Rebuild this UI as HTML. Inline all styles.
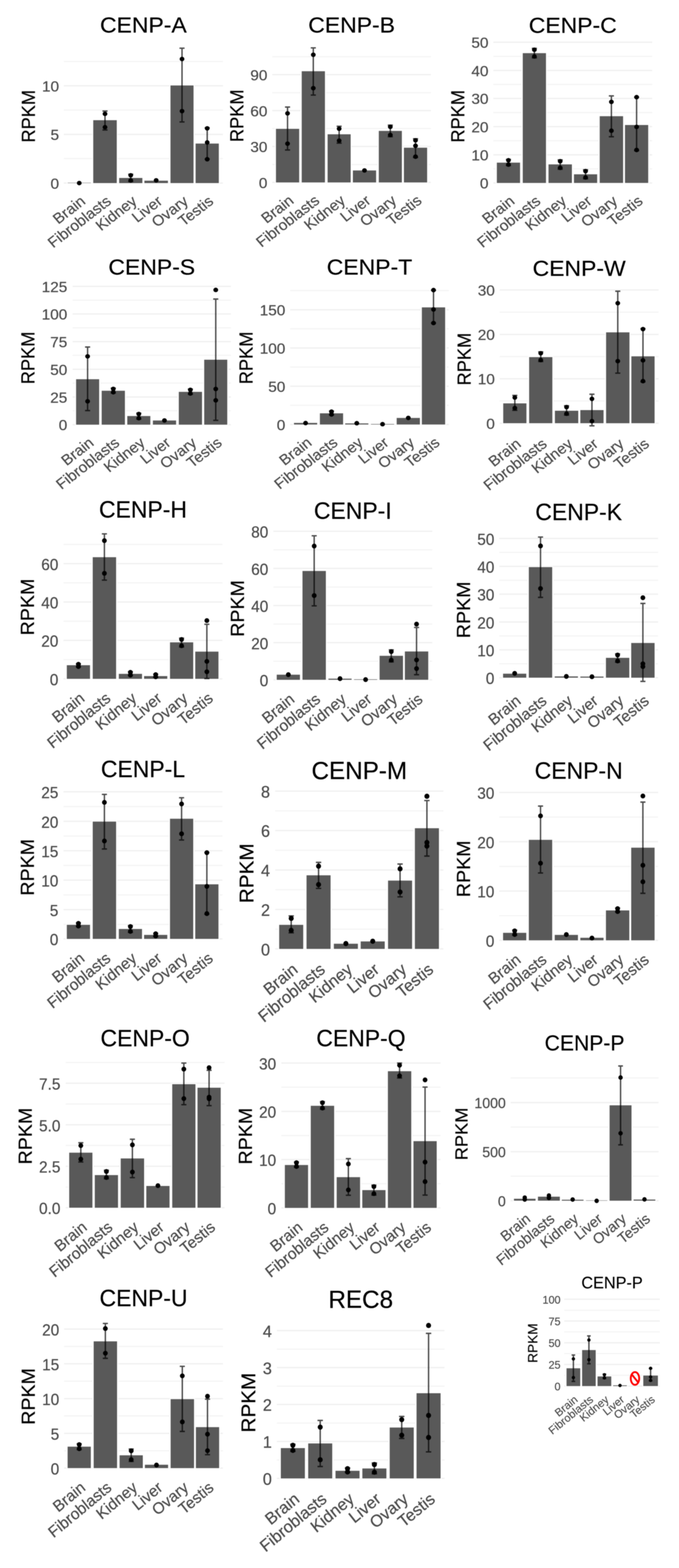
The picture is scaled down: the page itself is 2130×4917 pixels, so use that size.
<!DOCTYPE html>
<html lang="en"><head><meta charset="utf-8"><title>CENP expression (RPKM) across tissues</title>
<style>
html,body{margin:0;padding:0;background:#fff;}
body{width:2130px;height:4917px;overflow:hidden;}
svg{display:block;font-family:"Liberation Sans",Arial,Helvetica,sans-serif;}
.t{fill:#000;text-anchor:middle;stroke:#000;stroke-width:0.5;}
.yl{fill:#000;text-anchor:middle;stroke:#000;stroke-width:0.5;}
.tk{fill:#4d4d4d;text-anchor:end;stroke:#4d4d4d;stroke-width:0.6;}
.xl{fill:#4d4d4d;text-anchor:end;stroke:#4d4d4d;stroke-width:0.6;}
.b{fill:#595959;stroke:#fff;stroke-width:6;paint-order:stroke;}
.gM{stroke:#f0f0f0;stroke-width:4;}
.gm{stroke:#f4f4f4;stroke-width:3.6;}
.e{stroke:#000;stroke-opacity:.7;stroke-width:4.4;fill:none;}
.d{fill:#000;}
</style></head><body>
<svg width="2130" height="4917" viewBox="0 0 2130 4917">
<rect width="2130" height="4917" fill="#fff"/>
<g id="fig" filter="url(#soft)">
<g class="panel">
<line class="gm" x1="200.1" x2="699.4" y1="192.8" y2="192.8"/>
<line class="gM" x1="200.1" x2="699.4" y1="269" y2="269"/>
<line class="gm" x1="200.1" x2="699.4" y1="345.3" y2="345.3"/>
<line class="gM" x1="200.1" x2="699.4" y1="421.6" y2="421.6"/>
<line class="gm" x1="200.1" x2="699.4" y1="497.3" y2="497.3"/>
<line class="gM" x1="200.1" x2="699.4" y1="574.1" y2="574.1"/>
<rect class="b" x="212.2" y="573.1" width="72.8" height="1"/>
<rect class="b" x="292.5" y="376.9" width="73.8" height="197.2"/>
<rect class="b" x="373.8" y="558.1" width="72.8" height="16.1"/>
<rect class="b" x="453" y="566.6" width="73.8" height="7.5"/>
<rect class="b" x="534.8" y="268" width="72.3" height="306.1"/>
<rect class="b" x="613.6" y="450.2" width="72.8" height="123.9"/>
<ellipse class="d" cx="248.6" cy="574.1" rx="7.5" ry="7.1"/>
<path class="e" d="M321.4 348.3H337.4M329.4 348.3V407.5M321.4 407.5H337.4"/>
<ellipse class="d" cx="329.4" cy="357" rx="7.5" ry="7.1"/>
<ellipse class="d" cx="329.4" cy="398.9" rx="7.5" ry="7.1"/>
<path class="e" d="M402.1 546.5H418.1M410.1 546.5V569.1M402.1 569.1H418.1"/>
<ellipse class="d" cx="410.1" cy="549.8" rx="7.5" ry="7.1"/>
<ellipse class="d" cx="410.1" cy="565.8" rx="7.5" ry="7.1"/>
<ellipse class="d" cx="489.9" cy="565.6" rx="7.5" ry="7.1"/>
<path class="e" d="M563 151.1H579M571 151.1V382.4M563 382.4H579"/>
<ellipse class="d" cx="571" cy="185" rx="7.5" ry="7.1"/>
<ellipse class="d" cx="571" cy="348.6" rx="7.5" ry="7.1"/>
<path class="e" d="M642 401H658M650 401V498.9M642 498.9H658"/>
<ellipse class="d" cx="650" cy="402.5" rx="7.5" ry="7.1"/>
<ellipse class="d" cx="650" cy="446.7" rx="7.5" ry="7.1"/>
<ellipse class="d" cx="650" cy="499.4" rx="7.5" ry="7.1"/>
<text class="tk" font-size="45.8" transform="translate(185.3 286.7) scale(1.05 1)">10</text>
<text class="tk" font-size="45.8" transform="translate(185.3 439.3) scale(1.05 1)">5</text>
<text class="tk" font-size="45.8" transform="translate(185.3 591.8) scale(1.05 1)">0</text>
<text class="t" font-size="68.6" transform="translate(449.8 102.3) scale(1.05 1)">CENP-A</text>
<text class="yl" font-size="57.2" transform="translate(109.2 364.6) scale(1.05 1) rotate(-90)">RPKM</text>
<text class="xl" font-size="46.4" transform="translate(249.1 610.3) scale(1.05 1) rotate(-39)" dy="0.72em">Brain</text>
<text class="xl" font-size="46.4" transform="translate(329.9 610.3) scale(1.05 1) rotate(-39)" dy="0.72em">Fibroblasts</text>
<text class="xl" font-size="46.4" transform="translate(410.6 610.3) scale(1.05 1) rotate(-39)" dy="0.72em">Kidney</text>
<text class="xl" font-size="46.4" transform="translate(490.4 610.3) scale(1.05 1) rotate(-39)" dy="0.72em">Liver</text>
<text class="xl" font-size="46.4" transform="translate(571.5 610.3) scale(1.05 1) rotate(-39)" dy="0.72em">Ovary</text>
<text class="xl" font-size="46.4" transform="translate(650.5 610.3) scale(1.05 1) rotate(-39)" dy="0.72em">Testis</text>
</g>
<g class="panel">
<line class="gm" x1="854.1" x2="1351.9" y1="177.7" y2="177.7"/>
<line class="gM" x1="854.1" x2="1351.9" y1="233.9" y2="233.9"/>
<line class="gm" x1="854.1" x2="1351.9" y1="290.6" y2="290.6"/>
<line class="gM" x1="854.1" x2="1351.9" y1="346.8" y2="346.8"/>
<line class="gm" x1="854.1" x2="1351.9" y1="403" y2="403"/>
<line class="gM" x1="854.1" x2="1351.9" y1="459.2" y2="459.2"/>
<line class="gm" x1="854.1" x2="1351.9" y1="515.9" y2="515.9"/>
<line class="gM" x1="854.1" x2="1351.9" y1="572.1" y2="572.1"/>
<rect class="b" x="865.7" y="404" width="72.8" height="168.1"/>
<rect class="b" x="946.5" y="223.4" width="72.8" height="348.7"/>
<rect class="b" x="1027.7" y="421.1" width="72.3" height="151"/>
<rect class="b" x="1107" y="534.5" width="72.8" height="37.6"/>
<rect class="b" x="1188.3" y="410.5" width="72.3" height="161.6"/>
<rect class="b" x="1267.1" y="463.2" width="72.8" height="108.9"/>
<path class="e" d="M894 335.8H910M902 335.8V470.3M894 470.3H910"/>
<ellipse class="d" cx="902" cy="355.5" rx="7.5" ry="7.1"/>
<ellipse class="d" cx="902" cy="450.6" rx="7.5" ry="7.1"/>
<path class="e" d="M974.8 150.1H990.8M982.8 150.1V298.1M974.8 298.1H990.8"/>
<ellipse class="d" cx="982.8" cy="171.8" rx="7.5" ry="7.1"/>
<ellipse class="d" cx="982.8" cy="276.5" rx="7.5" ry="7.1"/>
<path class="e" d="M1055.9 396H1071.9M1063.9 396V448.7M1055.9 448.7H1071.9"/>
<ellipse class="d" cx="1063.9" cy="403.7" rx="7.5" ry="7.1"/>
<ellipse class="d" cx="1063.9" cy="441" rx="7.5" ry="7.1"/>
<ellipse class="d" cx="1143.4" cy="534.5" rx="7.5" ry="7.1"/>
<path class="e" d="M1216.4 392.5H1232.4M1224.4 392.5V428.6M1216.4 428.6H1232.4"/>
<ellipse class="d" cx="1224.4" cy="397.8" rx="7.5" ry="7.1"/>
<ellipse class="d" cx="1224.4" cy="423.3" rx="7.5" ry="7.1"/>
<path class="e" d="M1295.5 435.1H1311.5M1303.5 435.1V493.8M1295.5 493.8H1311.5"/>
<ellipse class="d" cx="1303.5" cy="440.1" rx="7.5" ry="7.1"/>
<ellipse class="d" cx="1303.5" cy="457.2" rx="7.5" ry="7.1"/>
<ellipse class="d" cx="1303.5" cy="491.3" rx="7.5" ry="7.1"/>
<text class="tk" font-size="45.8" transform="translate(838.7 251.6) scale(1.05 1)">90</text>
<text class="tk" font-size="45.8" transform="translate(838.7 364.5) scale(1.05 1)">60</text>
<text class="tk" font-size="45.8" transform="translate(838.7 476.9) scale(1.05 1)">30</text>
<text class="tk" font-size="45.8" transform="translate(838.7 589.8) scale(1.05 1)">0</text>
<text class="t" font-size="68.6" transform="translate(1103 102.3) scale(1.05 1)">CENP-B</text>
<text class="yl" font-size="57.2" transform="translate(763 363.1) scale(1.05 1) rotate(-90)">RPKM</text>
<text class="xl" font-size="46.4" transform="translate(902.5 608.2) scale(1.05 1) rotate(-39)" dy="0.72em">Brain</text>
<text class="xl" font-size="46.4" transform="translate(983.3 608.2) scale(1.05 1) rotate(-39)" dy="0.72em">Fibroblasts</text>
<text class="xl" font-size="46.4" transform="translate(1064.4 608.2) scale(1.05 1) rotate(-39)" dy="0.72em">Kidney</text>
<text class="xl" font-size="46.4" transform="translate(1143.9 608.2) scale(1.05 1) rotate(-39)" dy="0.72em">Liver</text>
<text class="xl" font-size="46.4" transform="translate(1224.9 608.2) scale(1.05 1) rotate(-39)" dy="0.72em">Ovary</text>
<text class="xl" font-size="46.4" transform="translate(1304 608.2) scale(1.05 1) rotate(-39)" dy="0.72em">Testis</text>
</g>
<g class="panel">
<line class="gM" x1="1547.6" x2="2045.9" y1="132.6" y2="132.6"/>
<line class="gm" x1="1547.6" x2="2045.9" y1="176.8" y2="176.8"/>
<line class="gM" x1="1547.6" x2="2045.9" y1="220.9" y2="220.9"/>
<line class="gm" x1="1547.6" x2="2045.9" y1="264.6" y2="264.6"/>
<line class="gM" x1="1547.6" x2="2045.9" y1="308.7" y2="308.7"/>
<line class="gm" x1="1547.6" x2="2045.9" y1="352.9" y2="352.9"/>
<line class="gM" x1="1547.6" x2="2045.9" y1="397.1" y2="397.1"/>
<line class="gm" x1="1547.6" x2="2045.9" y1="441.2" y2="441.2"/>
<line class="gM" x1="1547.6" x2="2045.9" y1="485.4" y2="485.4"/>
<line class="gm" x1="1547.6" x2="2045.9" y1="529.5" y2="529.5"/>
<line class="gM" x1="1547.6" x2="2045.9" y1="573.7" y2="573.7"/>
<rect class="b" x="1558.6" y="510" width="72.8" height="63.7"/>
<rect class="b" x="1639.9" y="166.7" width="72.8" height="407"/>
<rect class="b" x="1720.7" y="515.5" width="73.3" height="58.2"/>
<rect class="b" x="1800.5" y="546.6" width="72.8" height="27.1"/>
<rect class="b" x="1881.3" y="364.4" width="73.3" height="209.2"/>
<rect class="b" x="1960.6" y="392" width="72.8" height="181.6"/>
<path class="e" d="M1587 499.9H1603M1595 499.9V519M1587 519H1603"/>
<ellipse class="d" cx="1595" cy="502.7" rx="7.5" ry="7.1"/>
<ellipse class="d" cx="1595" cy="516.2" rx="7.5" ry="7.1"/>
<path class="e" d="M1668.3 151.7H1684.3M1676.3 151.7V181.3M1668.3 181.3H1684.3"/>
<ellipse class="d" cx="1676.3" cy="156" rx="7.5" ry="7.1"/>
<ellipse class="d" cx="1676.3" cy="177" rx="7.5" ry="7.1"/>
<path class="e" d="M1749.3 501.4H1765.3M1757.3 501.4V530.5M1749.3 530.5H1765.3"/>
<ellipse class="d" cx="1757.3" cy="505.7" rx="7.5" ry="7.1"/>
<ellipse class="d" cx="1757.3" cy="526.3" rx="7.5" ry="7.1"/>
<path class="e" d="M1828.9 532.5H1844.9M1836.9 532.5V560.6M1828.9 560.6H1844.9"/>
<ellipse class="d" cx="1836.9" cy="536.7" rx="7.5" ry="7.1"/>
<ellipse class="d" cx="1836.9" cy="556.5" rx="7.5" ry="7.1"/>
<path class="e" d="M1909.9 300.7H1925.9M1917.9 300.7V428.7M1909.9 428.7H1925.9"/>
<ellipse class="d" cx="1917.9" cy="319.5" rx="7.5" ry="7.1"/>
<ellipse class="d" cx="1917.9" cy="409.9" rx="7.5" ry="7.1"/>
<path class="e" d="M1989 304.7H2005M1997 304.7V472.3M1989 472.3H2005"/>
<ellipse class="d" cx="1997" cy="304.7" rx="7.5" ry="7.1"/>
<ellipse class="d" cx="1997" cy="398.1" rx="7.5" ry="7.1"/>
<ellipse class="d" cx="1997" cy="470.3" rx="7.5" ry="7.1"/>
<text class="tk" font-size="45.8" transform="translate(1532.3 150.3) scale(1.05 1)">50</text>
<text class="tk" font-size="45.8" transform="translate(1532.3 238.6) scale(1.05 1)">40</text>
<text class="tk" font-size="45.8" transform="translate(1532.3 326.4) scale(1.05 1)">30</text>
<text class="tk" font-size="45.8" transform="translate(1532.3 414.8) scale(1.05 1)">20</text>
<text class="tk" font-size="45.8" transform="translate(1532.3 503.1) scale(1.05 1)">10</text>
<text class="tk" font-size="45.8" transform="translate(1532.3 591.4) scale(1.05 1)">0</text>
<text class="t" font-size="68.6" transform="translate(1796.7 102.7) scale(1.05 1)">CENP-C</text>
<text class="yl" font-size="57.2" transform="translate(1456.2 364.7) scale(1.05 1) rotate(-90)">RPKM</text>
<text class="xl" font-size="46.4" transform="translate(1595.5 609.8) scale(1.05 1) rotate(-39)" dy="0.72em">Brain</text>
<text class="xl" font-size="46.4" transform="translate(1676.8 609.8) scale(1.05 1) rotate(-39)" dy="0.72em">Fibroblasts</text>
<text class="xl" font-size="46.4" transform="translate(1757.8 609.8) scale(1.05 1) rotate(-39)" dy="0.72em">Kidney</text>
<text class="xl" font-size="46.4" transform="translate(1837.4 609.8) scale(1.05 1) rotate(-39)" dy="0.72em">Liver</text>
<text class="xl" font-size="46.4" transform="translate(1918.4 609.8) scale(1.05 1) rotate(-39)" dy="0.72em">Ovary</text>
<text class="xl" font-size="46.4" transform="translate(1997.5 609.8) scale(1.05 1) rotate(-39)" dy="0.72em">Testis</text>
</g>
<g class="panel">
<line class="gM" x1="227.7" x2="724.4" y1="898.1" y2="898.1"/>
<line class="gm" x1="227.7" x2="724.4" y1="941.3" y2="941.3"/>
<line class="gM" x1="227.7" x2="724.4" y1="984.4" y2="984.4"/>
<line class="gm" x1="227.7" x2="724.4" y1="1028.1" y2="1028.1"/>
<line class="gM" x1="227.7" x2="724.4" y1="1071.3" y2="1071.3"/>
<line class="gm" x1="227.7" x2="724.4" y1="1114.4" y2="1114.4"/>
<line class="gM" x1="227.7" x2="724.4" y1="1158.1" y2="1158.1"/>
<line class="gm" x1="227.7" x2="724.4" y1="1201.2" y2="1201.2"/>
<line class="gM" x1="227.7" x2="724.4" y1="1244.9" y2="1244.9"/>
<line class="gm" x1="227.7" x2="724.4" y1="1288" y2="1288"/>
<line class="gM" x1="227.7" x2="724.4" y1="1331.7" y2="1331.7"/>
<rect class="b" x="238.7" y="1189.2" width="72.3" height="142.5"/>
<rect class="b" x="319" y="1225.3" width="72.8" height="106.4"/>
<rect class="b" x="399.3" y="1304.6" width="72.3" height="27.1"/>
<rect class="b" x="479.6" y="1318.6" width="72.8" height="13"/>
<rect class="b" x="560.9" y="1228.8" width="72.8" height="102.9"/>
<rect class="b" x="640.6" y="1128" width="72.3" height="203.7"/>
<path class="e" d="M266.8 1088.3H282.8M274.8 1088.3V1287.5M266.8 1287.5H282.8"/>
<ellipse class="d" cx="274.8" cy="1117.5" rx="7.5" ry="7.1"/>
<ellipse class="d" cx="274.8" cy="1258.4" rx="7.5" ry="7.1"/>
<path class="e" d="M347.4 1217.3H363.4M355.4 1217.3V1232.3M347.4 1232.3H363.4"/>
<ellipse class="d" cx="355.4" cy="1219.5" rx="7.5" ry="7.1"/>
<ellipse class="d" cx="355.4" cy="1230.1" rx="7.5" ry="7.1"/>
<path class="e" d="M427.4 1295.6H443.4M435.4 1295.6V1314.1M427.4 1314.1H443.4"/>
<ellipse class="d" cx="435.4" cy="1298.3" rx="7.5" ry="7.1"/>
<ellipse class="d" cx="435.4" cy="1311.4" rx="7.5" ry="7.1"/>
<ellipse class="d" cx="515.9" cy="1318.6" rx="7.5" ry="7.1"/>
<path class="e" d="M589.2 1220.3H605.2M597.2 1220.3V1236.3M589.2 1236.3H605.2"/>
<ellipse class="d" cx="597.2" cy="1222.6" rx="7.5" ry="7.1"/>
<ellipse class="d" cx="597.2" cy="1234" rx="7.5" ry="7.1"/>
<path class="e" d="M668.8 937.8H684.8M676.8 937.8V1318.1M668.8 1318.1H684.8"/>
<ellipse class="d" cx="676.8" cy="909.2" rx="7.5" ry="7.1"/>
<ellipse class="d" cx="676.8" cy="1219.8" rx="7.5" ry="7.1"/>
<ellipse class="d" cx="676.8" cy="1255.4" rx="7.5" ry="7.1"/>
<text class="tk" font-size="45.8" transform="translate(210.9 915.8) scale(1.05 1)">125</text>
<text class="tk" font-size="45.8" transform="translate(210.9 1002.1) scale(1.05 1)">100</text>
<text class="tk" font-size="45.8" transform="translate(210.9 1089) scale(1.05 1)">75</text>
<text class="tk" font-size="45.8" transform="translate(210.9 1175.8) scale(1.05 1)">50</text>
<text class="tk" font-size="45.8" transform="translate(210.9 1262.6) scale(1.05 1)">25</text>
<text class="tk" font-size="45.8" transform="translate(210.9 1349.4) scale(1.05 1)">0</text>
<text class="t" font-size="68.6" transform="translate(476.1 860.6) scale(1.05 1)">CENP-S</text>
<text class="yl" font-size="57.2" transform="translate(107.7 1122.4) scale(1.05 1) rotate(-90)">RPKM</text>
<text class="xl" font-size="46.4" transform="translate(275.3 1367.8) scale(1.05 1) rotate(-39)" dy="0.72em">Brain</text>
<text class="xl" font-size="46.4" transform="translate(355.9 1367.8) scale(1.05 1) rotate(-39)" dy="0.72em">Fibroblasts</text>
<text class="xl" font-size="46.4" transform="translate(435.9 1367.8) scale(1.05 1) rotate(-39)" dy="0.72em">Kidney</text>
<text class="xl" font-size="46.4" transform="translate(516.4 1367.8) scale(1.05 1) rotate(-39)" dy="0.72em">Liver</text>
<text class="xl" font-size="46.4" transform="translate(597.7 1367.8) scale(1.05 1) rotate(-39)" dy="0.72em">Ovary</text>
<text class="xl" font-size="46.4" transform="translate(677.3 1367.8) scale(1.05 1) rotate(-39)" dy="0.72em">Testis</text>
</g>
<g class="panel">
<line class="gm" x1="910.2" x2="1408" y1="911.2" y2="911.2"/>
<line class="gM" x1="910.2" x2="1408" y1="971.4" y2="971.4"/>
<line class="gm" x1="910.2" x2="1408" y1="1031.1" y2="1031.1"/>
<line class="gM" x1="910.2" x2="1408" y1="1091.3" y2="1091.3"/>
<line class="gm" x1="910.2" x2="1408" y1="1151" y2="1151"/>
<line class="gM" x1="910.2" x2="1408" y1="1211.3" y2="1211.3"/>
<line class="gm" x1="910.2" x2="1408" y1="1271" y2="1271"/>
<line class="gM" x1="910.2" x2="1408" y1="1331.2" y2="1331.2"/>
<rect class="b" x="922.2" y="1326.2" width="72.8" height="5"/>
<rect class="b" x="1003.5" y="1296.1" width="72.8" height="35.1"/>
<rect class="b" x="1082.8" y="1327.7" width="72.8" height="3.5"/>
<rect class="b" x="1163.6" y="1329.7" width="72.8" height="1.5"/>
<rect class="b" x="1244.4" y="1310.6" width="72.8" height="20.6"/>
<rect class="b" x="1323.4" y="963.9" width="73" height="367.3"/>
<ellipse class="d" cx="958.6" cy="1326.7" rx="7.5" ry="7.1"/>
<path class="e" d="M1031.9 1289H1047.9M1039.9 1289V1301.6M1031.9 1301.6H1047.9"/>
<ellipse class="d" cx="1039.9" cy="1290.9" rx="7.5" ry="7.1"/>
<ellipse class="d" cx="1039.9" cy="1299.7" rx="7.5" ry="7.1"/>
<ellipse class="d" cx="1119.2" cy="1327.2" rx="7.5" ry="7.1"/>
<ellipse class="d" cx="1200" cy="1330.2" rx="7.5" ry="7.1"/>
<ellipse class="d" cx="1280.8" cy="1310.6" rx="7.5" ry="7.1"/>
<path class="e" d="M1351.9 910.2H1367.9M1359.9 910.2V1013M1351.9 1013H1367.9"/>
<ellipse class="d" cx="1359.9" cy="909.7" rx="7.5" ry="7.1"/>
<ellipse class="d" cx="1359.9" cy="970.4" rx="7.5" ry="7.1"/>
<ellipse class="d" cx="1359.9" cy="1013" rx="7.5" ry="7.1"/>
<text class="tk" font-size="45.8" transform="translate(894.9 989.1) scale(1.05 1)">150</text>
<text class="tk" font-size="45.8" transform="translate(894.9 1109) scale(1.05 1)">100</text>
<text class="tk" font-size="45.8" transform="translate(894.9 1229) scale(1.05 1)">50</text>
<text class="tk" font-size="45.8" transform="translate(894.9 1348.9) scale(1.05 1)">0</text>
<text class="t" font-size="68.6" transform="translate(1159.1 860.6) scale(1.05 1)">CENP-T</text>
<text class="yl" font-size="57.2" transform="translate(792 1122.4) scale(1.05 1) rotate(-90)">RPKM</text>
<text class="xl" font-size="46.4" transform="translate(959.1 1367.3) scale(1.05 1) rotate(-39)" dy="0.72em">Brain</text>
<text class="xl" font-size="46.4" transform="translate(1040.4 1367.3) scale(1.05 1) rotate(-39)" dy="0.72em">Fibroblasts</text>
<text class="xl" font-size="46.4" transform="translate(1119.7 1367.3) scale(1.05 1) rotate(-39)" dy="0.72em">Kidney</text>
<text class="xl" font-size="46.4" transform="translate(1200.5 1367.3) scale(1.05 1) rotate(-39)" dy="0.72em">Liver</text>
<text class="xl" font-size="46.4" transform="translate(1281.3 1367.3) scale(1.05 1) rotate(-39)" dy="0.72em">Ovary</text>
<text class="xl" font-size="46.4" transform="translate(1360.4 1367.3) scale(1.05 1) rotate(-39)" dy="0.72em">Testis</text>
</g>
<g class="panel">
<line class="gM" x1="1567.6" x2="2065.9" y1="909.2" y2="909.2"/>
<line class="gm" x1="1567.6" x2="2065.9" y1="978.9" y2="978.9"/>
<line class="gM" x1="1567.6" x2="2065.9" y1="1048.7" y2="1048.7"/>
<line class="gm" x1="1567.6" x2="2065.9" y1="1118.4" y2="1118.4"/>
<line class="gM" x1="1567.6" x2="2065.9" y1="1187.7" y2="1187.7"/>
<line class="gm" x1="1567.6" x2="2065.9" y1="1257.4" y2="1257.4"/>
<line class="gM" x1="1567.6" x2="2065.9" y1="1327.2" y2="1327.2"/>
<rect class="b" x="1578.6" y="1264.9" width="72.8" height="62.2"/>
<rect class="b" x="1659.9" y="1119.9" width="72.8" height="207.2"/>
<rect class="b" x="1740.7" y="1288" width="73.3" height="39.1"/>
<rect class="b" x="1820.5" y="1286" width="72.8" height="41.1"/>
<rect class="b" x="1901.3" y="1042.2" width="73.3" height="285"/>
<rect class="b" x="1980.6" y="1117.4" width="72.8" height="209.7"/>
<path class="e" d="M1607 1239.9H1623M1615 1239.9V1286.5M1607 1286.5H1623"/>
<ellipse class="d" cx="1615" cy="1246.7" rx="7.5" ry="7.1"/>
<ellipse class="d" cx="1615" cy="1279.7" rx="7.5" ry="7.1"/>
<path class="e" d="M1688.3 1103.4H1704.3M1696.3 1103.4V1133.5M1688.3 1133.5H1704.3"/>
<ellipse class="d" cx="1696.3" cy="1107.8" rx="7.5" ry="7.1"/>
<ellipse class="d" cx="1696.3" cy="1129.1" rx="7.5" ry="7.1"/>
<path class="e" d="M1769.3 1272.5H1785.3M1777.3 1272.5V1301.6M1769.3 1301.6H1785.3"/>
<ellipse class="d" cx="1777.3" cy="1276.7" rx="7.5" ry="7.1"/>
<ellipse class="d" cx="1777.3" cy="1297.3" rx="7.5" ry="7.1"/>
<path class="e" d="M1848.9 1236.3H1864.9M1856.9 1236.3V1335.2M1848.9 1335.2H1864.9"/>
<ellipse class="d" cx="1856.9" cy="1250.8" rx="7.5" ry="7.1"/>
<ellipse class="d" cx="1856.9" cy="1320.7" rx="7.5" ry="7.1"/>
<path class="e" d="M1929.9 913.2H1945.9M1937.9 913.2V1170.1M1929.9 1170.1H1945.9"/>
<ellipse class="d" cx="1937.9" cy="950.8" rx="7.5" ry="7.1"/>
<ellipse class="d" cx="1937.9" cy="1132.5" rx="7.5" ry="7.1"/>
<path class="e" d="M2009 1030.6H2025M2017 1030.6V1197.2M2009 1197.2H2025"/>
<ellipse class="d" cx="2017" cy="1032.1" rx="7.5" ry="7.1"/>
<ellipse class="d" cx="2017" cy="1130" rx="7.5" ry="7.1"/>
<ellipse class="d" cx="2017" cy="1195.2" rx="7.5" ry="7.1"/>
<text class="tk" font-size="45.8" transform="translate(1552.3 926.9) scale(1.05 1)">30</text>
<text class="tk" font-size="45.8" transform="translate(1552.3 1066.4) scale(1.05 1)">20</text>
<text class="tk" font-size="45.8" transform="translate(1552.3 1205.4) scale(1.05 1)">10</text>
<text class="tk" font-size="45.8" transform="translate(1552.3 1344.9) scale(1.05 1)">0</text>
<text class="t" font-size="68.6" transform="translate(1816.7 865) scale(1.05 1)">CENP-W</text>
<text class="yl" font-size="57.2" transform="translate(1476.2 1126.2) scale(1.05 1) rotate(-90)">RPKM</text>
<text class="xl" font-size="46.4" transform="translate(1615.5 1371.3) scale(1.05 1) rotate(-39)" dy="0.72em">Brain</text>
<text class="xl" font-size="46.4" transform="translate(1696.8 1371.3) scale(1.05 1) rotate(-39)" dy="0.72em">Fibroblasts</text>
<text class="xl" font-size="46.4" transform="translate(1777.8 1371.3) scale(1.05 1) rotate(-39)" dy="0.72em">Kidney</text>
<text class="xl" font-size="46.4" transform="translate(1857.4 1371.3) scale(1.05 1) rotate(-39)" dy="0.72em">Liver</text>
<text class="xl" font-size="46.4" transform="translate(1938.4 1371.3) scale(1.05 1) rotate(-39)" dy="0.72em">Ovary</text>
<text class="xl" font-size="46.4" transform="translate(2017.5 1371.3) scale(1.05 1) rotate(-39)" dy="0.72em">Testis</text>
</g>
<g class="panel">
<line class="gm" x1="199.1" x2="697.8" y1="1707.2" y2="1707.2"/>
<line class="gM" x1="199.1" x2="697.8" y1="1767.4" y2="1767.4"/>
<line class="gm" x1="199.1" x2="697.8" y1="1827.6" y2="1827.6"/>
<line class="gM" x1="199.1" x2="697.8" y1="1887.8" y2="1887.8"/>
<line class="gm" x1="199.1" x2="697.8" y1="1948" y2="1948"/>
<line class="gM" x1="199.1" x2="697.8" y1="2008.2" y2="2008.2"/>
<line class="gm" x1="199.1" x2="697.8" y1="2068.5" y2="2068.5"/>
<line class="gM" x1="199.1" x2="697.8" y1="2128.7" y2="2128.7"/>
<rect class="b" x="209.6" y="2086" width="72.8" height="42.7"/>
<rect class="b" x="290.9" y="1747.3" width="73.3" height="381.4"/>
<rect class="b" x="372.7" y="2113.1" width="72.8" height="15.6"/>
<rect class="b" x="452" y="2120.1" width="72.8" height="8.5"/>
<rect class="b" x="533.3" y="2014.3" width="72.8" height="114.4"/>
<rect class="b" x="612.5" y="2043.4" width="72.8" height="85.3"/>
<path class="e" d="M238 2081.5H254M246 2081.5V2091.5M238 2091.5H254"/>
<ellipse class="d" cx="246" cy="2083" rx="7.5" ry="7.6"/>
<ellipse class="d" cx="246" cy="2090.1" rx="7.5" ry="7.6"/>
<path class="e" d="M319.5 1674.1H335.5M327.5 1674.1V1819.1M319.5 1819.1H335.5"/>
<ellipse class="d" cx="327.5" cy="1695.3" rx="7.5" ry="7.6"/>
<ellipse class="d" cx="327.5" cy="1797.8" rx="7.5" ry="7.6"/>
<path class="e" d="M401.1 2106.6H417.1M409.1 2106.6V2118.6M401.1 2118.6H417.1"/>
<ellipse class="d" cx="409.1" cy="2108.4" rx="7.5" ry="7.6"/>
<ellipse class="d" cx="409.1" cy="2116.9" rx="7.5" ry="7.6"/>
<path class="e" d="M480.4 2114.1H496.4M488.4 2114.1V2123.7M480.4 2123.7H496.4"/>
<ellipse class="d" cx="488.4" cy="2115.5" rx="7.5" ry="7.6"/>
<ellipse class="d" cx="488.4" cy="2122.3" rx="7.5" ry="7.6"/>
<path class="e" d="M561.6 2001.2H577.6M569.6 2001.2V2028.8M561.6 2028.8H577.6"/>
<ellipse class="d" cx="569.6" cy="2005.3" rx="7.5" ry="7.6"/>
<ellipse class="d" cx="569.6" cy="2024.8" rx="7.5" ry="7.6"/>
<path class="e" d="M640.9 1957.6H656.9M648.9 1957.6V2127.7M640.9 2127.7H656.9"/>
<ellipse class="d" cx="648.9" cy="1946" rx="7.5" ry="7.6"/>
<ellipse class="d" cx="648.9" cy="2074" rx="7.5" ry="7.6"/>
<ellipse class="d" cx="648.9" cy="2106.6" rx="7.5" ry="7.6"/>
<text class="tk" font-size="45.8" transform="translate(183.1 1787.5) scale(1.05 1.075)">60</text>
<text class="tk" font-size="45.8" transform="translate(183.1 1908) scale(1.05 1.075)">40</text>
<text class="tk" font-size="45.8" transform="translate(183.1 2028.4) scale(1.05 1.075)">20</text>
<text class="tk" font-size="45.8" transform="translate(183.1 2148.8) scale(1.05 1.075)">0</text>
<text class="t" font-size="68.6" transform="translate(448.5 1622.6) scale(1.05 1.075)">CENP-H</text>
<text class="yl" font-size="57.2" transform="translate(106.2 1903.5) scale(1.05 1.075) rotate(-90)">RPKM</text>
<text class="xl" font-size="46.4" transform="translate(246.5 2167.5) scale(1.05 1.075) rotate(-39)" dy="0.72em">Brain</text>
<text class="xl" font-size="46.4" transform="translate(328 2167.5) scale(1.05 1.075) rotate(-39)" dy="0.72em">Fibroblasts</text>
<text class="xl" font-size="46.4" transform="translate(409.6 2167.5) scale(1.05 1.075) rotate(-39)" dy="0.72em">Kidney</text>
<text class="xl" font-size="46.4" transform="translate(488.9 2167.5) scale(1.05 1.075) rotate(-39)" dy="0.72em">Liver</text>
<text class="xl" font-size="46.4" transform="translate(570.1 2167.5) scale(1.05 1.075) rotate(-39)" dy="0.72em">Ovary</text>
<text class="xl" font-size="46.4" transform="translate(649.4 2167.5) scale(1.05 1.075) rotate(-39)" dy="0.72em">Testis</text>
</g>
<g class="panel">
<line class="gM" x1="857.6" x2="1355.9" y1="1666.1" y2="1666.1"/>
<line class="gm" x1="857.6" x2="1355.9" y1="1724.3" y2="1724.3"/>
<line class="gM" x1="857.6" x2="1355.9" y1="1782.5" y2="1782.5"/>
<line class="gm" x1="857.6" x2="1355.9" y1="1840.7" y2="1840.7"/>
<line class="gM" x1="857.6" x2="1355.9" y1="1898.9" y2="1898.9"/>
<line class="gm" x1="857.6" x2="1355.9" y1="1957.1" y2="1957.1"/>
<line class="gM" x1="857.6" x2="1355.9" y1="2015.3" y2="2015.3"/>
<line class="gm" x1="857.6" x2="1355.9" y1="2073.5" y2="2073.5"/>
<line class="gM" x1="857.6" x2="1355.9" y1="2131.7" y2="2131.7"/>
<rect class="b" x="868.1" y="2115.7" width="72.8" height="16.1"/>
<rect class="b" x="948.9" y="1790.5" width="73.3" height="341.2"/>
<rect class="b" x="1030.2" y="2128.2" width="72.8" height="3.5"/>
<rect class="b" x="1110.5" y="2130.2" width="72.8" height="1.5"/>
<rect class="b" x="1190.8" y="2056.5" width="73.3" height="75.3"/>
<rect class="b" x="1270.1" y="2042.9" width="73.3" height="88.8"/>
<ellipse class="d" cx="904.5" cy="2115.7" rx="7.5" ry="7.6"/>
<path class="e" d="M977.6 1680.1H993.6M985.6 1680.1V1899.9M977.6 1899.9H993.6"/>
<ellipse class="d" cx="985.6" cy="1712.3" rx="7.5" ry="7.6"/>
<ellipse class="d" cx="985.6" cy="1867.7" rx="7.5" ry="7.6"/>
<ellipse class="d" cx="1066.6" cy="2128.2" rx="7.5" ry="7.6"/>
<ellipse class="d" cx="1146.9" cy="2131.2" rx="7.5" ry="7.6"/>
<path class="e" d="M1219.4 2037.9H1235.4M1227.4 2037.9V2075.5M1219.4 2075.5H1235.4"/>
<ellipse class="d" cx="1227.4" cy="2043.4" rx="7.5" ry="7.6"/>
<ellipse class="d" cx="1227.4" cy="2070" rx="7.5" ry="7.6"/>
<path class="e" d="M1298.7 1967.6H1314.7M1306.7 1967.6V2115.7M1298.7 2115.7H1314.7"/>
<ellipse class="d" cx="1306.7" cy="1957.1" rx="7.5" ry="7.6"/>
<ellipse class="d" cx="1306.7" cy="2069.5" rx="7.5" ry="7.6"/>
<ellipse class="d" cx="1306.7" cy="2096.6" rx="7.5" ry="7.6"/>
<text class="tk" font-size="45.8" transform="translate(841.5 1686.2) scale(1.05 1.075)">80</text>
<text class="tk" font-size="45.8" transform="translate(841.5 1802.6) scale(1.05 1.075)">60</text>
<text class="tk" font-size="45.8" transform="translate(841.5 1919) scale(1.05 1.075)">40</text>
<text class="tk" font-size="45.8" transform="translate(841.5 2035.5) scale(1.05 1.075)">20</text>
<text class="tk" font-size="45.8" transform="translate(841.5 2151.9) scale(1.05 1.075)">0</text>
<text class="t" font-size="68.6" transform="translate(1106.7 1627) scale(1.05 1.075)">CENP-I</text>
<text class="yl" font-size="57.2" transform="translate(765 1908.1) scale(1.05 1.075) rotate(-90)">RPKM</text>
<text class="xl" font-size="46.4" transform="translate(905 2170.4) scale(1.05 1.075) rotate(-39)" dy="0.72em">Brain</text>
<text class="xl" font-size="46.4" transform="translate(986.1 2170.4) scale(1.05 1.075) rotate(-39)" dy="0.72em">Fibroblasts</text>
<text class="xl" font-size="46.4" transform="translate(1067.1 2170.4) scale(1.05 1.075) rotate(-39)" dy="0.72em">Kidney</text>
<text class="xl" font-size="46.4" transform="translate(1147.4 2170.4) scale(1.05 1.075) rotate(-39)" dy="0.72em">Liver</text>
<text class="xl" font-size="46.4" transform="translate(1227.9 2170.4) scale(1.05 1.075) rotate(-39)" dy="0.72em">Ovary</text>
<text class="xl" font-size="46.4" transform="translate(1307.2 2170.4) scale(1.05 1.075) rotate(-39)" dy="0.72em">Testis</text>
</g>
<g class="panel">
<line class="gM" x1="1566.1" x2="2064.4" y1="1688.6" y2="1688.6"/>
<line class="gm" x1="1566.1" x2="2064.4" y1="1732.3" y2="1732.3"/>
<line class="gM" x1="1566.1" x2="2064.4" y1="1775.9" y2="1775.9"/>
<line class="gm" x1="1566.1" x2="2064.4" y1="1819.6" y2="1819.6"/>
<line class="gM" x1="1566.1" x2="2064.4" y1="1863.2" y2="1863.2"/>
<line class="gm" x1="1566.1" x2="2064.4" y1="1906.9" y2="1906.9"/>
<line class="gM" x1="1566.1" x2="2064.4" y1="1950.5" y2="1950.5"/>
<line class="gm" x1="1566.1" x2="2064.4" y1="1994.2" y2="1994.2"/>
<line class="gM" x1="1566.1" x2="2064.4" y1="2037.8" y2="2037.8"/>
<line class="gm" x1="1566.1" x2="2064.4" y1="2081.5" y2="2081.5"/>
<line class="gM" x1="1566.1" x2="2064.4" y1="2125.2" y2="2125.2"/>
<rect class="b" x="1578.1" y="2112.6" width="72.8" height="12.5"/>
<rect class="b" x="1658.9" y="1778.4" width="73.3" height="346.7"/>
<rect class="b" x="1740.2" y="2121.1" width="72.8" height="4"/>
<rect class="b" x="1820.5" y="2121.6" width="72.8" height="3.5"/>
<rect class="b" x="1900.8" y="2062.9" width="73.3" height="62.2"/>
<rect class="b" x="1980.1" y="2016.3" width="73.3" height="108.9"/>
<ellipse class="d" cx="1614.5" cy="2111.6" rx="7.5" ry="7.6"/>
<path class="e" d="M1687.6 1684.1H1703.6M1695.6 1684.1V1873.3M1687.6 1873.3H1703.6"/>
<ellipse class="d" cx="1695.6" cy="1711.8" rx="7.5" ry="7.6"/>
<ellipse class="d" cx="1695.6" cy="1845.6" rx="7.5" ry="7.6"/>
<ellipse class="d" cx="1776.6" cy="2121.1" rx="7.5" ry="7.6"/>
<ellipse class="d" cx="1856.9" cy="2122.2" rx="7.5" ry="7.6"/>
<path class="e" d="M1929.4 2050.4H1945.4M1937.4 2050.4V2076.5M1929.4 2076.5H1945.4"/>
<ellipse class="d" cx="1937.4" cy="2054.2" rx="7.5" ry="7.6"/>
<ellipse class="d" cx="1937.4" cy="2072.7" rx="7.5" ry="7.6"/>
<path class="e" d="M2008.7 1892.3H2024.7M2016.7 1892.3V2136.7M2008.7 2136.7H2024.7"/>
<ellipse class="d" cx="2016.7" cy="1874.3" rx="7.5" ry="7.6"/>
<ellipse class="d" cx="2016.7" cy="2081.5" rx="7.5" ry="7.6"/>
<ellipse class="d" cx="2016.7" cy="2090.5" rx="7.5" ry="7.6"/>
<text class="tk" font-size="45.8" transform="translate(1550.8 1708.8) scale(1.05 1.075)">50</text>
<text class="tk" font-size="45.8" transform="translate(1550.8 1796.1) scale(1.05 1.075)">40</text>
<text class="tk" font-size="45.8" transform="translate(1550.8 1883.4) scale(1.05 1.075)">30</text>
<text class="tk" font-size="45.8" transform="translate(1550.8 1970.7) scale(1.05 1.075)">20</text>
<text class="tk" font-size="45.8" transform="translate(1550.8 2058) scale(1.05 1.075)">10</text>
<text class="tk" font-size="45.8" transform="translate(1550.8 2145.3) scale(1.05 1.075)">0</text>
<text class="t" font-size="68.6" transform="translate(1815.2 1631) scale(1.05 1.075)">CENP-K</text>
<text class="yl" font-size="57.2" transform="translate(1474.2 1912.5) scale(1.05 1.075) rotate(-90)">RPKM</text>
<text class="xl" font-size="46.4" transform="translate(1615 2175.5) scale(1.05 1.075) rotate(-39)" dy="0.72em">Brain</text>
<text class="xl" font-size="46.4" transform="translate(1696.1 2175.5) scale(1.05 1.075) rotate(-39)" dy="0.72em">Fibroblasts</text>
<text class="xl" font-size="46.4" transform="translate(1777.1 2175.5) scale(1.05 1.075) rotate(-39)" dy="0.72em">Kidney</text>
<text class="xl" font-size="46.4" transform="translate(1857.4 2175.5) scale(1.05 1.075) rotate(-39)" dy="0.72em">Liver</text>
<text class="xl" font-size="46.4" transform="translate(1937.9 2175.5) scale(1.05 1.075) rotate(-39)" dy="0.72em">Ovary</text>
<text class="xl" font-size="46.4" transform="translate(2017.2 2175.5) scale(1.05 1.075) rotate(-39)" dy="0.72em">Testis</text>
</g>
<g class="panel">
<line class="gM" x1="199.1" x2="697.8" y1="2483.1" y2="2483.1"/>
<line class="gm" x1="199.1" x2="697.8" y1="2529.2" y2="2529.2"/>
<line class="gM" x1="199.1" x2="697.8" y1="2575.4" y2="2575.4"/>
<line class="gm" x1="199.1" x2="697.8" y1="2621.6" y2="2621.6"/>
<line class="gM" x1="199.1" x2="697.8" y1="2667.7" y2="2667.7"/>
<line class="gm" x1="199.1" x2="697.8" y1="2713.9" y2="2713.9"/>
<line class="gM" x1="199.1" x2="697.8" y1="2760.1" y2="2760.1"/>
<line class="gm" x1="199.1" x2="697.8" y1="2806.2" y2="2806.2"/>
<line class="gM" x1="199.1" x2="697.8" y1="2852.4" y2="2852.4"/>
<line class="gm" x1="199.1" x2="697.8" y1="2898.6" y2="2898.6"/>
<line class="gM" x1="199.1" x2="697.8" y1="2944.2" y2="2944.2"/>
<rect class="b" x="209.6" y="2900.1" width="72.8" height="44.2"/>
<rect class="b" x="290.9" y="2576.4" width="73.3" height="367.8"/>
<rect class="b" x="372.7" y="2913.1" width="72.8" height="31.1"/>
<rect class="b" x="452" y="2931.7" width="72.8" height="12.5"/>
<rect class="b" x="533.3" y="2567.4" width="72.8" height="376.8"/>
<rect class="b" x="612.5" y="2773.1" width="72.8" height="171.1"/>
<path class="e" d="M238 2894.1H254M246 2894.1V2905.6M238 2905.6H254"/>
<ellipse class="d" cx="246" cy="2895.7" rx="7.5" ry="7.6"/>
<ellipse class="d" cx="246" cy="2903.9" rx="7.5" ry="7.6"/>
<path class="e" d="M319.5 2491.1H335.5M327.5 2491.1V2662.2M319.5 2662.2H335.5"/>
<ellipse class="d" cx="327.5" cy="2516.2" rx="7.5" ry="7.6"/>
<ellipse class="d" cx="327.5" cy="2637.2" rx="7.5" ry="7.6"/>
<path class="e" d="M401.1 2902.6H417.1M409.1 2902.6V2923.7M401.1 2923.7H417.1"/>
<ellipse class="d" cx="409.1" cy="2905.7" rx="7.5" ry="7.6"/>
<ellipse class="d" cx="409.1" cy="2920.6" rx="7.5" ry="7.6"/>
<path class="e" d="M480.4 2926.7H496.4M488.4 2926.7V2936.7M480.4 2936.7H496.4"/>
<ellipse class="d" cx="488.4" cy="2928.1" rx="7.5" ry="7.6"/>
<ellipse class="d" cx="488.4" cy="2935.2" rx="7.5" ry="7.6"/>
<path class="e" d="M561.6 2501.6H577.6M569.6 2501.6V2634.1M561.6 2634.1H577.6"/>
<ellipse class="d" cx="569.6" cy="2521" rx="7.5" ry="7.6"/>
<ellipse class="d" cx="569.6" cy="2614.7" rx="7.5" ry="7.6"/>
<path class="e" d="M640.9 2673.3H656.9M648.9 2673.3V2866.5M640.9 2866.5H656.9"/>
<ellipse class="d" cx="648.9" cy="2673.8" rx="7.5" ry="7.6"/>
<ellipse class="d" cx="648.9" cy="2779.6" rx="7.5" ry="7.6"/>
<ellipse class="d" cx="648.9" cy="2864.9" rx="7.5" ry="7.6"/>
<text class="tk" font-size="45.8" transform="translate(183 2503.2) scale(1.05 1.075)">25</text>
<text class="tk" font-size="45.8" transform="translate(183 2595.6) scale(1.05 1.075)">20</text>
<text class="tk" font-size="45.8" transform="translate(183 2687.9) scale(1.05 1.075)">15</text>
<text class="tk" font-size="45.8" transform="translate(183 2780.2) scale(1.05 1.075)">10</text>
<text class="tk" font-size="45.8" transform="translate(183 2872.6) scale(1.05 1.075)">5</text>
<text class="tk" font-size="45.8" transform="translate(183 2964.4) scale(1.05 1.075)">0</text>
<text class="t" font-size="68.6" transform="translate(448.5 2437.4) scale(1.05 1.075)">CENP-L</text>
<text class="yl" font-size="57.2" transform="translate(106.1 2719.8) scale(1.05 1.075) rotate(-90)">RPKM</text>
<text class="xl" font-size="46.4" transform="translate(246.5 2983) scale(1.05 1.075) rotate(-39)" dy="0.72em">Brain</text>
<text class="xl" font-size="46.4" transform="translate(328 2983) scale(1.05 1.075) rotate(-39)" dy="0.72em">Fibroblasts</text>
<text class="xl" font-size="46.4" transform="translate(409.6 2983) scale(1.05 1.075) rotate(-39)" dy="0.72em">Kidney</text>
<text class="xl" font-size="46.4" transform="translate(488.9 2983) scale(1.05 1.075) rotate(-39)" dy="0.72em">Liver</text>
<text class="xl" font-size="46.4" transform="translate(570.1 2983) scale(1.05 1.075) rotate(-39)" dy="0.72em">Ovary</text>
<text class="xl" font-size="46.4" transform="translate(649.4 2983) scale(1.05 1.075) rotate(-39)" dy="0.72em">Testis</text>
</g>
<g class="panel">
<line class="gM" x1="863.4" x2="1390.9" y1="2480.8" y2="2480.8"/>
<line class="gm" x1="863.4" x2="1390.9" y1="2542.6" y2="2542.6"/>
<line class="gM" x1="863.4" x2="1390.9" y1="2604.5" y2="2604.5"/>
<line class="gm" x1="863.4" x2="1390.9" y1="2666.3" y2="2666.3"/>
<line class="gM" x1="863.4" x2="1390.9" y1="2728.2" y2="2728.2"/>
<line class="gm" x1="863.4" x2="1390.9" y1="2790" y2="2790"/>
<line class="gM" x1="863.4" x2="1390.9" y1="2851.9" y2="2851.9"/>
<line class="gm" x1="863.4" x2="1390.9" y1="2913.7" y2="2913.7"/>
<line class="gM" x1="863.4" x2="1390.9" y1="2975.6" y2="2975.6"/>
<rect class="b" x="875.8" y="2900.2" width="75.4" height="75.4"/>
<rect class="b" x="961.6" y="2744.8" width="75.4" height="230.8"/>
<rect class="b" x="1047.3" y="2959.4" width="75.4" height="16.1"/>
<rect class="b" x="1131.5" y="2952.2" width="75.4" height="23.4"/>
<rect class="b" x="1217.3" y="2761.4" width="75.4" height="214.1"/>
<rect class="b" x="1301.5" y="2597.2" width="75.4" height="378.4"/>
<path class="e" d="M905.1 2872.1H922M913.5 2872.1V2925.1M905.1 2925.1H922"/>
<ellipse class="d" cx="913.5" cy="2879.9" rx="7.9" ry="8.1"/>
<ellipse class="d" cx="913.5" cy="2917.4" rx="7.9" ry="8.1"/>
<path class="e" d="M990.9 2704.3H1007.7M999.3 2704.3V2785.9M990.9 2785.9H1007.7"/>
<ellipse class="d" cx="999.3" cy="2716.2" rx="7.9" ry="8.1"/>
<ellipse class="d" cx="999.3" cy="2773.9" rx="7.9" ry="8.1"/>
<ellipse class="d" cx="1085" cy="2958.9" rx="7.9" ry="8.1"/>
<ellipse class="d" cx="1169.2" cy="2951.6" rx="7.9" ry="8.1"/>
<path class="e" d="M1246.6 2709.5H1263.4M1255 2709.5V2812.4M1246.6 2812.4H1263.4"/>
<ellipse class="d" cx="1255" cy="2724.5" rx="7.9" ry="8.1"/>
<ellipse class="d" cx="1255" cy="2797.3" rx="7.9" ry="8.1"/>
<path class="e" d="M1330.7 2510.4H1347.6M1339.2 2510.4V2684.5M1330.7 2684.5H1347.6"/>
<ellipse class="d" cx="1339.2" cy="2496.9" rx="7.9" ry="8.1"/>
<ellipse class="d" cx="1339.2" cy="2641.9" rx="7.9" ry="8.1"/>
<ellipse class="d" cx="1339.2" cy="2653.3" rx="7.9" ry="8.1"/>
<text class="tk" font-size="45.8" transform="translate(847.1 2500.7) scale(1.108 1.135)">8</text>
<text class="tk" font-size="45.8" transform="translate(847.1 2624.4) scale(1.108 1.135)">6</text>
<text class="tk" font-size="45.8" transform="translate(847.1 2748.1) scale(1.108 1.135)">4</text>
<text class="tk" font-size="45.8" transform="translate(847.1 2871.8) scale(1.108 1.135)">2</text>
<text class="tk" font-size="45.8" transform="translate(847.1 2995.5) scale(1.108 1.135)">0</text>
<text class="t" font-size="68.6" transform="translate(1127.1 2442.6) scale(1.108 1.135)">CENP-M</text>
<text class="yl" font-size="57.2" transform="translate(795.2 2738.5) scale(1.108 1.135) rotate(-90)">RPKM</text>
<text class="xl" font-size="46.4" transform="translate(914.1 3016.5) scale(1.108 1.135) rotate(-39)" dy="0.72em">Brain</text>
<text class="xl" font-size="46.4" transform="translate(999.8 3016.5) scale(1.108 1.135) rotate(-39)" dy="0.72em">Fibroblasts</text>
<text class="xl" font-size="46.4" transform="translate(1085.6 3016.5) scale(1.108 1.135) rotate(-39)" dy="0.72em">Kidney</text>
<text class="xl" font-size="46.4" transform="translate(1169.8 3016.5) scale(1.108 1.135) rotate(-39)" dy="0.72em">Liver</text>
<text class="xl" font-size="46.4" transform="translate(1255.5 3016.5) scale(1.108 1.135) rotate(-39)" dy="0.72em">Ovary</text>
<text class="xl" font-size="46.4" transform="translate(1339.7 3016.5) scale(1.108 1.135) rotate(-39)" dy="0.72em">Testis</text>
</g>
<g class="panel">
<line class="gM" x1="1566.1" x2="2064.4" y1="2485.1" y2="2485.1"/>
<line class="gm" x1="1566.1" x2="2064.4" y1="2562.4" y2="2562.4"/>
<line class="gM" x1="1566.1" x2="2064.4" y1="2639.6" y2="2639.6"/>
<line class="gm" x1="1566.1" x2="2064.4" y1="2716.9" y2="2716.9"/>
<line class="gM" x1="1566.1" x2="2064.4" y1="2794.2" y2="2794.2"/>
<line class="gm" x1="1566.1" x2="2064.4" y1="2871.5" y2="2871.5"/>
<line class="gM" x1="1566.1" x2="2064.4" y1="2948.7" y2="2948.7"/>
<rect class="b" x="1578.1" y="2925.2" width="72.8" height="23.6"/>
<rect class="b" x="1658.9" y="2633.6" width="73.3" height="315.1"/>
<rect class="b" x="1740.2" y="2931.7" width="72.8" height="17.1"/>
<rect class="b" x="1820.5" y="2940.7" width="72.8" height="8"/>
<rect class="b" x="1900.8" y="2854.9" width="73.3" height="93.8"/>
<rect class="b" x="1980.1" y="2658.2" width="73.3" height="290.5"/>
<path class="e" d="M1606.5 2916.6H1622.5M1614.5 2916.6V2932.7M1606.5 2932.7H1622.5"/>
<ellipse class="d" cx="1614.5" cy="2919" rx="7.5" ry="7.6"/>
<ellipse class="d" cx="1614.5" cy="2930.3" rx="7.5" ry="7.6"/>
<path class="e" d="M1687.6 2527.7H1703.6M1695.6 2527.7V2737.5M1687.6 2737.5H1703.6"/>
<ellipse class="d" cx="1695.6" cy="2558.5" rx="7.5" ry="7.6"/>
<ellipse class="d" cx="1695.6" cy="2706.8" rx="7.5" ry="7.6"/>
<ellipse class="d" cx="1776.6" cy="2930.7" rx="7.5" ry="7.6"/>
<ellipse class="d" cx="1856.9" cy="2941.7" rx="7.5" ry="7.6"/>
<path class="e" d="M1929.4 2847.4H1945.4M1937.4 2847.4V2860.4M1929.4 2860.4H1945.4"/>
<ellipse class="d" cx="1937.4" cy="2849.3" rx="7.5" ry="7.6"/>
<ellipse class="d" cx="1937.4" cy="2858.5" rx="7.5" ry="7.6"/>
<path class="e" d="M2008.7 2515.2H2024.7M2016.7 2515.2V2801.2M2008.7 2801.2H2024.7"/>
<ellipse class="d" cx="2016.7" cy="2496.1" rx="7.5" ry="7.6"/>
<ellipse class="d" cx="2016.7" cy="2713.4" rx="7.5" ry="7.6"/>
<ellipse class="d" cx="2016.7" cy="2765.1" rx="7.5" ry="7.6"/>
<text class="tk" font-size="45.8" transform="translate(1550.7 2505.2) scale(1.05 1.075)">30</text>
<text class="tk" font-size="45.8" transform="translate(1550.7 2659.8) scale(1.05 1.075)">20</text>
<text class="tk" font-size="45.8" transform="translate(1550.7 2814.3) scale(1.05 1.075)">10</text>
<text class="tk" font-size="45.8" transform="translate(1550.7 2968.9) scale(1.05 1.075)">0</text>
<text class="t" font-size="68.6" transform="translate(1815.2 2441.8) scale(1.05 1.075)">CENP-N</text>
<text class="yl" font-size="57.2" transform="translate(1474.2 2724.6) scale(1.05 1.075) rotate(-90)">RPKM</text>
<text class="xl" font-size="46.4" transform="translate(1615 2987.5) scale(1.05 1.075) rotate(-39)" dy="0.72em">Brain</text>
<text class="xl" font-size="46.4" transform="translate(1696.1 2987.5) scale(1.05 1.075) rotate(-39)" dy="0.72em">Fibroblasts</text>
<text class="xl" font-size="46.4" transform="translate(1777.1 2987.5) scale(1.05 1.075) rotate(-39)" dy="0.72em">Kidney</text>
<text class="xl" font-size="46.4" transform="translate(1857.4 2987.5) scale(1.05 1.075) rotate(-39)" dy="0.72em">Liver</text>
<text class="xl" font-size="46.4" transform="translate(1937.9 2987.5) scale(1.05 1.075) rotate(-39)" dy="0.72em">Ovary</text>
<text class="xl" font-size="46.4" transform="translate(2017.2 2987.5) scale(1.05 1.075) rotate(-39)" dy="0.72em">Testis</text>
</g>
<g class="panel">
<line class="gm" x1="206.1" x2="704.4" y1="3331.6" y2="3331.6"/>
<line class="gM" x1="206.1" x2="704.4" y1="3396.8" y2="3396.8"/>
<line class="gm" x1="206.1" x2="704.4" y1="3462.1" y2="3462.1"/>
<line class="gM" x1="206.1" x2="704.4" y1="3527.3" y2="3527.3"/>
<line class="gm" x1="206.1" x2="704.4" y1="3592" y2="3592"/>
<line class="gM" x1="206.1" x2="704.4" y1="3657.3" y2="3657.3"/>
<line class="gm" x1="206.1" x2="704.4" y1="3722.5" y2="3722.5"/>
<line class="gM" x1="206.1" x2="704.4" y1="3787.2" y2="3787.2"/>
<rect class="b" x="217.1" y="3614.6" width="72.8" height="172.6"/>
<rect class="b" x="297.4" y="3684.9" width="72.8" height="102.4"/>
<rect class="b" x="378.7" y="3632.7" width="73.3" height="154.6"/>
<rect class="b" x="459" y="3719" width="72.8" height="68.2"/>
<rect class="b" x="540.3" y="3399.9" width="72.8" height="387.4"/>
<rect class="b" x="619.6" y="3410.9" width="72.8" height="376.3"/>
<path class="e" d="M245.5 3583.5H261.5M253.5 3583.5V3643.7M245.5 3643.7H261.5"/>
<ellipse class="d" cx="253.5" cy="3592.3" rx="7.5" ry="7.6"/>
<ellipse class="d" cx="253.5" cy="3634.9" rx="7.5" ry="7.6"/>
<path class="e" d="M325.8 3669.8H341.8M333.8 3669.8V3696.4M325.8 3696.4H341.8"/>
<ellipse class="d" cx="333.8" cy="3673.7" rx="7.5" ry="7.6"/>
<ellipse class="d" cx="333.8" cy="3692.5" rx="7.5" ry="7.6"/>
<path class="e" d="M407.3 3572.5H423.3M415.3 3572.5V3692.9M407.3 3692.9H423.3"/>
<ellipse class="d" cx="415.3" cy="3590.1" rx="7.5" ry="7.6"/>
<ellipse class="d" cx="415.3" cy="3675.3" rx="7.5" ry="7.6"/>
<ellipse class="d" cx="495.4" cy="3718" rx="7.5" ry="7.6"/>
<path class="e" d="M568.7 3333.6H584.7M576.7 3333.6V3464.1M568.7 3464.1H584.7"/>
<ellipse class="d" cx="576.7" cy="3352.7" rx="7.5" ry="7.6"/>
<ellipse class="d" cx="576.7" cy="3445" rx="7.5" ry="7.6"/>
<path class="e" d="M647.9 3356.2H663.9M655.9 3356.2V3467.1M647.9 3467.1H663.9"/>
<ellipse class="d" cx="655.9" cy="3348.2" rx="7.5" ry="7.6"/>
<ellipse class="d" cx="655.9" cy="3440.5" rx="7.5" ry="7.6"/>
<ellipse class="d" cx="655.9" cy="3445.5" rx="7.5" ry="7.6"/>
<text class="tk" font-size="45.8" transform="translate(189.4 3417) scale(1.05 1.075)">7.5</text>
<text class="tk" font-size="45.8" transform="translate(189.4 3547.5) scale(1.05 1.075)">5.0</text>
<text class="tk" font-size="45.8" transform="translate(189.4 3677.4) scale(1.05 1.075)">2.5</text>
<text class="tk" font-size="45.8" transform="translate(189.4 3807.4) scale(1.05 1.075)">0.0</text>
<text class="t" font-size="68.6" transform="translate(455.2 3280.6) scale(1.05 1.075)">CENP-O</text>
<text class="yl" font-size="57.2" transform="translate(99.4 3562.6) scale(1.05 1.075) rotate(-90)">RPKM</text>
<text class="xl" font-size="46.4" transform="translate(254 3826) scale(1.05 1.075) rotate(-39)" dy="0.72em">Brain</text>
<text class="xl" font-size="46.4" transform="translate(334.3 3826) scale(1.05 1.075) rotate(-39)" dy="0.72em">Fibroblasts</text>
<text class="xl" font-size="46.4" transform="translate(415.8 3826) scale(1.05 1.075) rotate(-39)" dy="0.72em">Kidney</text>
<text class="xl" font-size="46.4" transform="translate(495.9 3826) scale(1.05 1.075) rotate(-39)" dy="0.72em">Liver</text>
<text class="xl" font-size="46.4" transform="translate(577.2 3826) scale(1.05 1.075) rotate(-39)" dy="0.72em">Ovary</text>
<text class="xl" font-size="46.4" transform="translate(656.4 3826) scale(1.05 1.075) rotate(-39)" dy="0.72em">Testis</text>
</g>
<g class="panel">
<line class="gM" x1="882.6" x2="1381.9" y1="3333.6" y2="3333.6"/>
<line class="gm" x1="882.6" x2="1381.9" y1="3409.4" y2="3409.4"/>
<line class="gM" x1="882.6" x2="1381.9" y1="3485.2" y2="3485.2"/>
<line class="gm" x1="882.6" x2="1381.9" y1="3560.9" y2="3560.9"/>
<line class="gM" x1="882.6" x2="1381.9" y1="3636.2" y2="3636.2"/>
<line class="gm" x1="882.6" x2="1381.9" y1="3712" y2="3712"/>
<line class="gM" x1="882.6" x2="1381.9" y1="3787.7" y2="3787.7"/>
<rect class="b" x="893.6" y="3653.3" width="72.8" height="134.5"/>
<rect class="b" x="974.9" y="3467.6" width="73.3" height="320.1"/>
<rect class="b" x="1056.2" y="3691.4" width="73.3" height="96.3"/>
<rect class="b" x="1136.5" y="3732" width="72.8" height="55.7"/>
<rect class="b" x="1216.8" y="3359.2" width="73.3" height="428.5"/>
<rect class="b" x="1297.1" y="3578.5" width="72.8" height="209.2"/>
<path class="e" d="M922 3643.7H938M930 3643.7V3660.3M922 3660.3H938"/>
<ellipse class="d" cx="930" cy="3646.2" rx="7.5" ry="7.6"/>
<ellipse class="d" cx="930" cy="3657.9" rx="7.5" ry="7.6"/>
<path class="e" d="M1003.5 3454.6H1019.5M1011.5 3454.6V3478.1M1003.5 3478.1H1019.5"/>
<ellipse class="d" cx="1011.5" cy="3458" rx="7.5" ry="7.6"/>
<ellipse class="d" cx="1011.5" cy="3474.7" rx="7.5" ry="7.6"/>
<path class="e" d="M1084.8 3633.2H1100.8M1092.8 3633.2V3748.1M1084.8 3748.1H1100.8"/>
<ellipse class="d" cx="1092.8" cy="3650" rx="7.5" ry="7.6"/>
<ellipse class="d" cx="1092.8" cy="3731.3" rx="7.5" ry="7.6"/>
<path class="e" d="M1164.9 3716.5H1180.9M1172.9 3716.5V3747.6M1164.9 3747.6H1180.9"/>
<ellipse class="d" cx="1172.9" cy="3721" rx="7.5" ry="7.6"/>
<ellipse class="d" cx="1172.9" cy="3743" rx="7.5" ry="7.6"/>
<path class="e" d="M1245.4 3333.6H1261.4M1253.4 3333.6V3380.3M1245.4 3380.3H1261.4"/>
<ellipse class="d" cx="1253.4" cy="3340.5" rx="7.5" ry="7.6"/>
<ellipse class="d" cx="1253.4" cy="3373.5" rx="7.5" ry="7.6"/>
<path class="e" d="M1325.4 3408.9H1341.4M1333.4 3408.9V3747.6M1325.4 3747.6H1341.4"/>
<ellipse class="d" cx="1333.4" cy="3386.3" rx="7.5" ry="7.6"/>
<ellipse class="d" cx="1333.4" cy="3644.2" rx="7.5" ry="7.6"/>
<ellipse class="d" cx="1333.4" cy="3705.4" rx="7.5" ry="7.6"/>
<text class="tk" font-size="45.8" transform="translate(866.3 3353.8) scale(1.05 1.075)">30</text>
<text class="tk" font-size="45.8" transform="translate(866.3 3505.3) scale(1.05 1.075)">20</text>
<text class="tk" font-size="45.8" transform="translate(866.3 3656.4) scale(1.05 1.075)">10</text>
<text class="tk" font-size="45.8" transform="translate(866.3 3807.9) scale(1.05 1.075)">0</text>
<text class="t" font-size="68.6" transform="translate(1132.2 3280.6) scale(1.05 1.075)">CENP-Q</text>
<text class="yl" font-size="57.2" transform="translate(790 3562.8) scale(1.05 1.075) rotate(-90)">RPKM</text>
<text class="xl" font-size="46.4" transform="translate(930.5 3826.6) scale(1.05 1.075) rotate(-39)" dy="0.72em">Brain</text>
<text class="xl" font-size="46.4" transform="translate(1012 3826.6) scale(1.05 1.075) rotate(-39)" dy="0.72em">Fibroblasts</text>
<text class="xl" font-size="46.4" transform="translate(1093.3 3826.6) scale(1.05 1.075) rotate(-39)" dy="0.72em">Kidney</text>
<text class="xl" font-size="46.4" transform="translate(1173.4 3826.6) scale(1.05 1.075) rotate(-39)" dy="0.72em">Liver</text>
<text class="xl" font-size="46.4" transform="translate(1253.9 3826.6) scale(1.05 1.075) rotate(-39)" dy="0.72em">Ovary</text>
<text class="xl" font-size="46.4" transform="translate(1333.9 3826.6) scale(1.05 1.075) rotate(-39)" dy="0.72em">Testis</text>
</g>
<g class="panel">
<line class="gm" x1="1601.7" x2="2065.9" y1="3380.3" y2="3380.3"/>
<line class="gM" x1="1601.7" x2="2065.9" y1="3457.6" y2="3457.6"/>
<line class="gm" x1="1601.7" x2="2065.9" y1="3534.3" y2="3534.3"/>
<line class="gM" x1="1601.7" x2="2065.9" y1="3611.6" y2="3611.6"/>
<line class="gm" x1="1601.7" x2="2065.9" y1="3688.4" y2="3688.4"/>
<line class="gM" x1="1601.7" x2="2065.9" y1="3765.2" y2="3765.2"/>
<rect class="b" x="1612.3" y="3759.1" width="67.7" height="6"/>
<rect class="b" x="1687.5" y="3752.6" width="68.7" height="12.5"/>
<rect class="b" x="1762.3" y="3762.2" width="68.2" height="3"/>
<rect class="b" x="1838.1" y="3764.2" width="67.2" height="1"/>
<rect class="b" x="1912.3" y="3466.1" width="68.7" height="299.1"/>
<rect class="b" x="1987.6" y="3761.6" width="68.2" height="3.5"/>
<ellipse class="d" cx="1646.1" cy="3755.6" rx="6.9" ry="7.1"/>
<ellipse class="d" cx="1646.1" cy="3761.6" rx="6.9" ry="7.1"/>
<ellipse class="d" cx="1721.9" cy="3749.1" rx="6.9" ry="7.1"/>
<ellipse class="d" cx="1721.9" cy="3756.6" rx="6.9" ry="7.1"/>
<ellipse class="d" cx="1796.4" cy="3761.6" rx="6.9" ry="7.1"/>
<ellipse class="d" cx="1871.7" cy="3765.7" rx="6.9" ry="7.1"/>
<path class="e" d="M1939.3 3342.7H1954.1M1946.7 3342.7V3590M1939.3 3590H1954.1"/>
<ellipse class="d" cx="1946.7" cy="3378.9" rx="6.9" ry="7.1"/>
<ellipse class="d" cx="1946.7" cy="3553.8" rx="6.9" ry="7.1"/>
<ellipse class="d" cx="2021.7" cy="3761.1" rx="6.9" ry="7.1"/>
<text class="tk" font-size="45.8" transform="translate(1586.7 3475.3) scale(0.966 1)">1000</text>
<text class="tk" font-size="45.8" transform="translate(1586.7 3629.3) scale(0.966 1)">500</text>
<text class="tk" font-size="45.8" transform="translate(1586.7 3782.9) scale(0.966 1)">0</text>
<text class="t" font-size="68.6" transform="translate(1833.8 3293.5) scale(0.966 1)">CENP-P</text>
<text class="yl" font-size="57.2" transform="translate(1466.8 3555.9) scale(0.966 1) rotate(-90)">RPKM</text>
<text class="xl" font-size="46.4" transform="translate(1646.6 3801.3) scale(0.966 1) rotate(-39)" dy="0.72em">Brain</text>
<text class="xl" font-size="46.4" transform="translate(1722.4 3801.3) scale(0.966 1) rotate(-39)" dy="0.72em">Fibroblasts</text>
<text class="xl" font-size="46.4" transform="translate(1796.9 3801.3) scale(0.966 1) rotate(-39)" dy="0.72em">Kidney</text>
<text class="xl" font-size="46.4" transform="translate(1872.1 3801.3) scale(0.966 1) rotate(-39)" dy="0.72em">Liver</text>
<text class="xl" font-size="46.4" transform="translate(1947.2 3801.3) scale(0.966 1) rotate(-39)" dy="0.72em">Ovary</text>
<text class="xl" font-size="46.4" transform="translate(2022.2 3801.3) scale(0.966 1) rotate(-39)" dy="0.72em">Testis</text>
</g>
<g class="panel">
<line class="gM" x1="201.1" x2="699.4" y1="4167.7" y2="4167.7"/>
<line class="gm" x1="201.1" x2="699.4" y1="4222.4" y2="4222.4"/>
<line class="gM" x1="201.1" x2="699.4" y1="4276.6" y2="4276.6"/>
<line class="gm" x1="201.1" x2="699.4" y1="4331.3" y2="4331.3"/>
<line class="gM" x1="201.1" x2="699.4" y1="4385.9" y2="4385.9"/>
<line class="gm" x1="201.1" x2="699.4" y1="4440.1" y2="4440.1"/>
<line class="gM" x1="201.1" x2="699.4" y1="4494.8" y2="4494.8"/>
<line class="gm" x1="201.1" x2="699.4" y1="4549.5" y2="4549.5"/>
<line class="gM" x1="201.1" x2="699.4" y1="4603.7" y2="4603.7"/>
<rect class="b" x="212.1" y="4536.5" width="72.8" height="67.2"/>
<rect class="b" x="293.9" y="4206.3" width="73.3" height="397.4"/>
<rect class="b" x="375.2" y="4563.6" width="72.8" height="40.1"/>
<rect class="b" x="454.5" y="4593.2" width="72.8" height="10.5"/>
<rect class="b" x="535.3" y="4387.5" width="73.3" height="216.3"/>
<rect class="b" x="614.6" y="4475.3" width="72.8" height="128.5"/>
<path class="e" d="M240.5 4527.5H256.5M248.5 4527.5V4545.5M240.5 4545.5H256.5"/>
<ellipse class="d" cx="248.5" cy="4530.1" rx="7.5" ry="7.6"/>
<ellipse class="d" cx="248.5" cy="4542.9" rx="7.5" ry="7.6"/>
<path class="e" d="M322.5 4150.1H338.5M330.5 4150.1V4259.5M322.5 4259.5H338.5"/>
<ellipse class="d" cx="330.5" cy="4166.1" rx="7.5" ry="7.6"/>
<ellipse class="d" cx="330.5" cy="4243.5" rx="7.5" ry="7.6"/>
<path class="e" d="M403.6 4544H419.6M411.6 4544V4582.7M403.6 4582.7H419.6"/>
<ellipse class="d" cx="411.6" cy="4549.7" rx="7.5" ry="7.6"/>
<ellipse class="d" cx="411.6" cy="4577" rx="7.5" ry="7.6"/>
<ellipse class="d" cx="490.9" cy="4594.2" rx="7.5" ry="7.6"/>
<path class="e" d="M563.9 4284.6H579.9M571.9 4284.6V4488.8M563.9 4488.8H579.9"/>
<ellipse class="d" cx="571.9" cy="4314.5" rx="7.5" ry="7.6"/>
<ellipse class="d" cx="571.9" cy="4458.9" rx="7.5" ry="7.6"/>
<path class="e" d="M642.9 4387.5H658.9M650.9 4387.5V4561.6M642.9 4561.6H658.9"/>
<ellipse class="d" cx="650.9" cy="4378.4" rx="7.5" ry="7.6"/>
<ellipse class="d" cx="650.9" cy="4497.3" rx="7.5" ry="7.6"/>
<ellipse class="d" cx="650.9" cy="4549" rx="7.5" ry="7.6"/>
<text class="tk" font-size="45.8" transform="translate(185.7 4187.8) scale(1.05 1.075)">20</text>
<text class="tk" font-size="45.8" transform="translate(185.7 4296.7) scale(1.05 1.075)">15</text>
<text class="tk" font-size="45.8" transform="translate(185.7 4406.1) scale(1.05 1.075)">10</text>
<text class="tk" font-size="45.8" transform="translate(185.7 4515) scale(1.05 1.075)">5</text>
<text class="tk" font-size="45.8" transform="translate(185.7 4623.9) scale(1.05 1.075)">0</text>
<text class="t" font-size="68.6" transform="translate(450.2 4096) scale(1.05 1.075)">CENP-U</text>
<text class="yl" font-size="57.2" transform="translate(108.9 4379.1) scale(1.05 1.075) rotate(-90)">RPKM</text>
<text class="xl" font-size="46.4" transform="translate(249 4642.5) scale(1.05 1.075) rotate(-39)" dy="0.72em">Brain</text>
<text class="xl" font-size="46.4" transform="translate(331 4642.5) scale(1.05 1.075) rotate(-39)" dy="0.72em">Fibroblasts</text>
<text class="xl" font-size="46.4" transform="translate(412.1 4642.5) scale(1.05 1.075) rotate(-39)" dy="0.72em">Kidney</text>
<text class="xl" font-size="46.4" transform="translate(491.4 4642.5) scale(1.05 1.075) rotate(-39)" dy="0.72em">Liver</text>
<text class="xl" font-size="46.4" transform="translate(572.4 4642.5) scale(1.05 1.075) rotate(-39)" dy="0.72em">Ovary</text>
<text class="xl" font-size="46.4" transform="translate(651.4 4642.5) scale(1.05 1.075) rotate(-39)" dy="0.72em">Testis</text>
</g>
<g class="panel">
<line class="gM" x1="868.6" x2="1394.5" y1="4172.5" y2="4172.5"/>
<line class="gm" x1="868.6" x2="1394.5" y1="4230.7" y2="4230.7"/>
<line class="gM" x1="868.6" x2="1394.5" y1="4288.4" y2="4288.4"/>
<line class="gm" x1="868.6" x2="1394.5" y1="4346.6" y2="4346.6"/>
<line class="gM" x1="868.6" x2="1394.5" y1="4404.3" y2="4404.3"/>
<line class="gm" x1="868.6" x2="1394.5" y1="4462.5" y2="4462.5"/>
<line class="gM" x1="868.6" x2="1394.5" y1="4520.2" y2="4520.2"/>
<line class="gm" x1="868.6" x2="1394.5" y1="4578.4" y2="4578.4"/>
<line class="gM" x1="868.6" x2="1394.5" y1="4636.1" y2="4636.1"/>
<rect class="b" x="881" y="4541" width="75.4" height="95.1"/>
<rect class="b" x="966.8" y="4526.4" width="75.4" height="109.7"/>
<rect class="b" x="1052.5" y="4612.2" width="75.4" height="23.9"/>
<rect class="b" x="1136.7" y="4604.9" width="75.4" height="31.2"/>
<rect class="b" x="1222.5" y="4476.5" width="75.4" height="159.6"/>
<rect class="b" x="1306.7" y="4368.9" width="75.4" height="267.1"/>
<path class="e" d="M910.3 4529H927.2M918.7 4529V4551.4M910.3 4551.4H927.2"/>
<ellipse class="d" cx="918.7" cy="4532.3" rx="7.9" ry="8.1"/>
<ellipse class="d" cx="918.7" cy="4548.1" rx="7.9" ry="8.1"/>
<path class="e" d="M996 4454.2H1012.9M1004.5 4454.2V4598.7M996 4598.7H1012.9"/>
<ellipse class="d" cx="1004.5" cy="4475.3" rx="7.9" ry="8.1"/>
<ellipse class="d" cx="1004.5" cy="4577.5" rx="7.9" ry="8.1"/>
<path class="e" d="M1081.8 4603.3H1098.7M1090.2 4603.3V4617.9M1081.8 4617.9H1098.7"/>
<ellipse class="d" cx="1090.2" cy="4605.5" rx="7.9" ry="8.1"/>
<ellipse class="d" cx="1090.2" cy="4615.8" rx="7.9" ry="8.1"/>
<path class="e" d="M1166 4587.7H1182.9M1174.4 4587.7V4621.5M1166 4621.5H1182.9"/>
<ellipse class="d" cx="1174.4" cy="4592.7" rx="7.9" ry="8.1"/>
<ellipse class="d" cx="1174.4" cy="4616.6" rx="7.9" ry="8.1"/>
<path class="e" d="M1251.7 4441.7H1268.6M1260.2 4441.7V4510.8M1251.7 4510.8H1268.6"/>
<ellipse class="d" cx="1260.2" cy="4451.8" rx="7.9" ry="8.1"/>
<ellipse class="d" cx="1260.2" cy="4500.7" rx="7.9" ry="8.1"/>
<path class="e" d="M1335.9 4181.3H1352.8M1344.4 4181.3V4552.9M1335.9 4552.9H1352.8"/>
<ellipse class="d" cx="1344.4" cy="4156.4" rx="7.9" ry="8.1"/>
<ellipse class="d" cx="1344.4" cy="4438.6" rx="7.9" ry="8.1"/>
<ellipse class="d" cx="1344.4" cy="4507.7" rx="7.9" ry="8.1"/>
<text class="tk" font-size="45.8" transform="translate(852.7 4192.6) scale(1.108 1.135)">4</text>
<text class="tk" font-size="45.8" transform="translate(852.7 4308.5) scale(1.108 1.135)">3</text>
<text class="tk" font-size="45.8" transform="translate(852.7 4424.4) scale(1.108 1.135)">2</text>
<text class="tk" font-size="45.8" transform="translate(852.7 4540.3) scale(1.108 1.135)">1</text>
<text class="tk" font-size="45.8" transform="translate(852.7 4656.2) scale(1.108 1.135)">0</text>
<text class="t" font-size="68.6" transform="translate(1131.6 4100.6) scale(1.108 1.135)">REC8</text>
<text class="yl" font-size="57.2" transform="translate(801 4398.5) scale(1.108 1.135) rotate(-90)">RPKM</text>
<text class="xl" font-size="46.4" transform="translate(919.3 4677.1) scale(1.108 1.135) rotate(-39)" dy="0.72em">Brain</text>
<text class="xl" font-size="46.4" transform="translate(1005 4677.1) scale(1.108 1.135) rotate(-39)" dy="0.72em">Fibroblasts</text>
<text class="xl" font-size="46.4" transform="translate(1090.8 4677.1) scale(1.108 1.135) rotate(-39)" dy="0.72em">Kidney</text>
<text class="xl" font-size="46.4" transform="translate(1175 4677.1) scale(1.108 1.135) rotate(-39)" dy="0.72em">Liver</text>
<text class="xl" font-size="46.4" transform="translate(1260.7 4677.1) scale(1.108 1.135) rotate(-39)" dy="0.72em">Ovary</text>
<text class="xl" font-size="46.4" transform="translate(1344.9 4677.1) scale(1.108 1.135) rotate(-39)" dy="0.72em">Testis</text>
</g>
<g class="panel">
<line class="gM" x1="1769.9" x2="2070.1" y1="4074.2" y2="4074.2"/>
<line class="gm" x1="1769.9" x2="2070.1" y1="4108.8" y2="4108.8"/>
<line class="gM" x1="1769.9" x2="2070.1" y1="4142.6" y2="4142.6"/>
<line class="gm" x1="1769.9" x2="2070.1" y1="4176.5" y2="4176.5"/>
<line class="gM" x1="1769.9" x2="2070.1" y1="4210.7" y2="4210.7"/>
<line class="gm" x1="1769.9" x2="2070.1" y1="4244.5" y2="4244.5"/>
<line class="gM" x1="1769.9" x2="2070.1" y1="4278.8" y2="4278.8"/>
<line class="gm" x1="1769.9" x2="2070.1" y1="4312.6" y2="4312.6"/>
<line class="gM" x1="1769.9" x2="2070.1" y1="4346.5" y2="4346.5"/>
<rect class="b" x="1777.2" y="4290.7" width="43" height="55.8"/>
<rect class="b" x="1826.1" y="4233.6" width="42.6" height="112.9"/>
<rect class="b" x="1874.5" y="4316.3" width="43" height="30.2"/>
<rect class="b" x="1923.4" y="4344.2" width="43" height="2.3"/>
<rect class="b" x="2018" y="4313.5" width="45.8" height="32.9"/>
<path class="e" stroke-width="3.1" d="M1793 4249.1H1804.3M1798.7 4249.1V4331.8M1793 4331.8H1804.3"/>
<ellipse class="d" cx="1798.7" cy="4261.2" rx="5.3" ry="5.3"/>
<ellipse class="d" cx="1798.7" cy="4319.7" rx="5.3" ry="5.3"/>
<path class="e" stroke-width="3.1" d="M1841.7 4189.2H1853M1847.4 4189.2V4276.5M1841.7 4276.5H1853"/>
<ellipse class="d" cx="1847.4" cy="4202" rx="5.3" ry="5.3"/>
<ellipse class="d" cx="1847.4" cy="4263.7" rx="5.3" ry="5.3"/>
<path class="e" stroke-width="3.1" d="M1890.4 4309H1901.7M1896 4309V4322.7M1890.4 4322.7H1901.7"/>
<ellipse class="d" cx="1896" cy="4311" rx="5.3" ry="5.3"/>
<ellipse class="d" cx="1896" cy="4320.7" rx="5.3" ry="5.3"/>
<ellipse class="d" cx="1944.9" cy="4344.6" rx="5.3" ry="5.3"/>
<g stroke="#ff0000" stroke-width="5.8" fill="none"><ellipse cx="1991.9" cy="4322.6" rx="13.2" ry="20"/><line x1="1981.7" y1="4309.9" x2="2002.1" y2="4335.3"/></g>
<path class="e" stroke-width="3.1" d="M2035.2 4291.6H2046.5M2040.9 4291.6V4330M2035.2 4330H2046.5"/>
<ellipse class="d" cx="2040.9" cy="4290.7" rx="5.3" ry="5.3"/>
<ellipse class="d" cx="2040.9" cy="4318.1" rx="5.3" ry="5.3"/>
<ellipse class="d" cx="2040.9" cy="4328.6" rx="5.3" ry="5.3"/>
<text class="tk" font-size="45.8" transform="translate(1758.5 4087.5) scale(0.7423 0.75)">100</text>
<text class="tk" font-size="45.8" transform="translate(1758.5 4156) scale(0.7423 0.75)">75</text>
<text class="tk" font-size="45.8" transform="translate(1758.5 4224.1) scale(0.7423 0.75)">50</text>
<text class="tk" font-size="45.8" transform="translate(1758.5 4292.1) scale(0.7423 0.75)">25</text>
<text class="tk" font-size="45.8" transform="translate(1758.5 4359.8) scale(0.7423 0.75)">0</text>
<text class="t" font-size="68.6" transform="translate(1920 4040.4) scale(0.7423 0.75)">CENP-P</text>
<text class="yl" font-size="57.2" transform="translate(1685.9 4211.8) scale(0.7423 0.75) rotate(-90)">RPKM</text>
<text class="xl" font-size="46.4" transform="translate(1799 4373.3) scale(0.7423 0.75) rotate(-39)" dy="0.72em">Brain</text>
<text class="xl" font-size="46.4" transform="translate(1847.7 4373.3) scale(0.7423 0.75) rotate(-39)" dy="0.72em">Fibroblasts</text>
<text class="xl" font-size="46.4" transform="translate(1896.4 4373.3) scale(0.7423 0.75) rotate(-39)" dy="0.72em">Kidney</text>
<text class="xl" font-size="46.4" transform="translate(1945.3 4373.3) scale(0.7423 0.75) rotate(-39)" dy="0.72em">Liver</text>
<text class="xl" font-size="46.4" transform="translate(1993.3 4373.3) scale(0.7423 0.75) rotate(-39)" dy="0.72em">Ovary</text>
<text class="xl" font-size="46.4" transform="translate(2041.2 4373.3) scale(0.7423 0.75) rotate(-39)" dy="0.72em">Testis</text>
</g>
</g>
<defs><filter id="soft" x="0" y="0" width="100%" height="100%" color-interpolation-filters="sRGB"><feGaussianBlur stdDeviation="0.9"/></filter></defs>
</svg>
</body></html>
